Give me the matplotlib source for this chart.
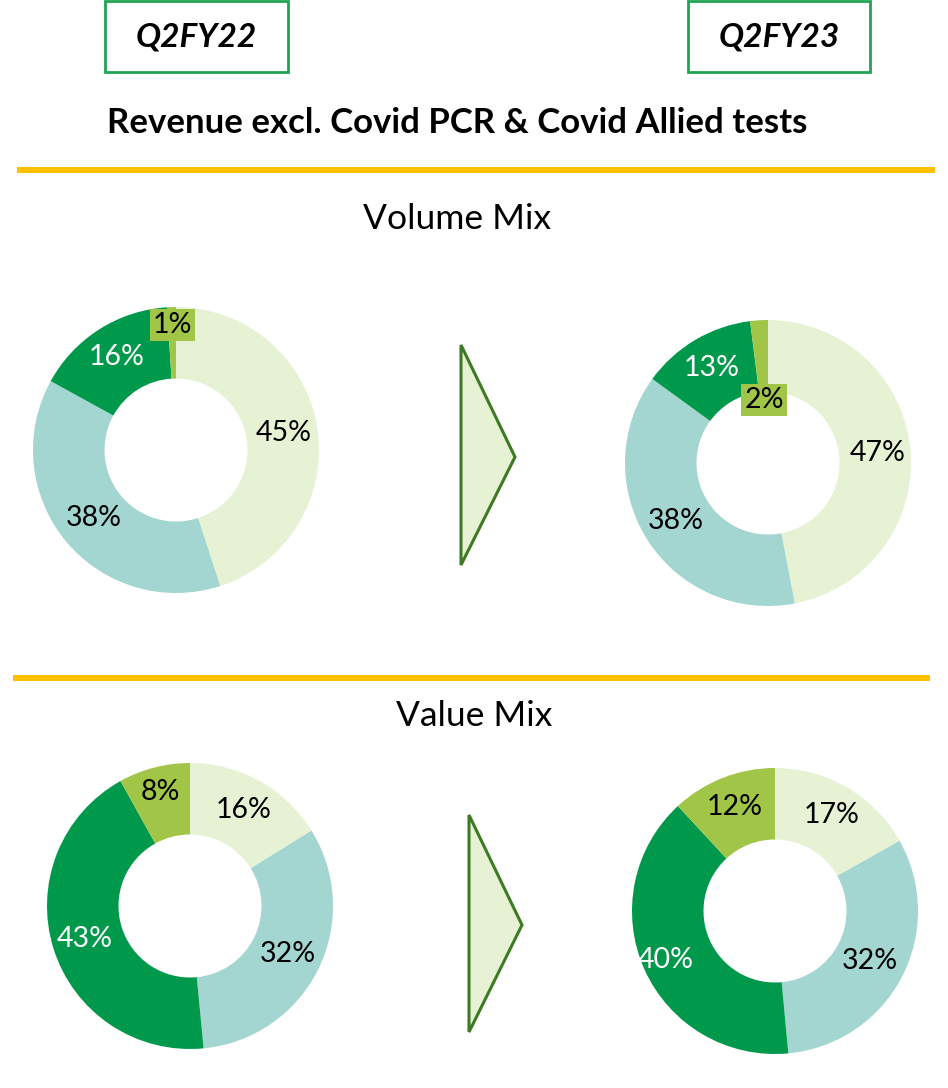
import numpy as np
import matplotlib
matplotlib.use("Agg")
import matplotlib.pyplot as plt
from matplotlib.patches import Rectangle, Polygon

plt.rcParams['font.family'] = ['Lato', 'DejaVu Sans']

# ---------------- data ----------------
periods = ["Q2FY22", "Q2FY23"]
title = "Revenue excl. Covid PCR & Covid Allied tests"
section_titles = ["Volume Mix", "Value Mix"]
volume_q2fy22 = [45, 38, 16, 1]
volume_q2fy23 = [47, 38, 13, 2]
value_q2fy22 = [16, 32, 43, 8]
value_q2fy23 = [17, 32, 40, 12]

# ---------------- style ----------------
W, H = 948, 1088
COLORS = ["#E7F2D5", "#A3D5D1", "#00984A", "#A1C547"]
TEXT_COLORS = ["black", "black", "white", "black"]
YELLOW = "#FFC000"
BOX_GREEN = "#1FA453"
ARROW_EDGE = "#3C7A24"
R = 143

fig = plt.figure(figsize=(W / 100, H / 100), dpi=100)
ax = fig.add_axes([0, 0, 1, 1])


def Y(y):
    return H - y


def donut(vals, cx, cy, label_r, boxed):
    wedges, _ = ax.pie(vals, colors=COLORS, startangle=90, counterclock=False,
                       center=(cx, Y(cy)), radius=R, normalize=True,
                       wedgeprops=dict(width=R * 0.5, linewidth=0))
    for w, v, lr, tc, bx in zip(wedges, vals, label_r, TEXT_COLORS, boxed):
        ang = np.deg2rad((w.theta1 + w.theta2) / 2)
        x = cx + lr * R * np.cos(ang)
        y = Y(cy) + lr * R * np.sin(ang)
        kw = {}
        if bx:
            kw['bbox'] = dict(boxstyle='square,pad=0.1', fc=COLORS[3], ec='none')
        ax.text(x, y, f"{v}%", ha='center', va='center', fontsize=20.5,
                color=tc, **kw)


donut(volume_q2fy22, 176, 450, [0.76, 0.75, 0.77, 0.875], [False, False, False, True])
donut(volume_q2fy23, 768, 463, [0.77, 0.76, 0.77, 0.44], [False, False, False, True])
donut(value_q2fy22, 190, 906, [0.77, 0.76, 0.77, 0.82], [False] * 4)
donut(value_q2fy23, 775, 911, [0.78, 0.75, 0.84, 0.78], [False] * 4)

# header boxes
for (x0, x1), lab in zip([(105, 288), (688, 870)], periods):
    ax.add_patch(Rectangle((x0, Y(72)), x1 - x0, 71, fill=False,
                           ec=BOX_GREEN, lw=2.0))
    ax.text((x0 + x1) / 2, Y(37), lab, ha='center', va='center',
            fontsize=24, fontweight='bold', fontstyle='italic')

ax.text(457, Y(123), title, ha='center', va='center', fontsize=25,
        fontweight='bold')

# yellow separators
ax.add_patch(Rectangle((17, Y(173)), 918, 6, fc=YELLOW, ec='none'))
ax.add_patch(Rectangle((13, Y(681)), 917, 6, fc=YELLOW, ec='none'))

ax.text(457, Y(219), section_titles[0], ha='center', va='center', fontsize=25.5)
ax.text(474, Y(716), section_titles[1], ha='center', va='center', fontsize=25.5)

# arrows
for top, bot, tip in [((461, 345), (461, 565), (515, 457)),
                      ((469, 815), (469, 1032), (522, 925))]:
    ax.add_patch(Polygon([(top[0], Y(top[1])), (tip[0], Y(tip[1])),
                          (bot[0], Y(bot[1]))], closed=True,
                         fc=COLORS[0], ec=ARROW_EDGE, lw=2.2))

ax.set_xlim(0, W)
ax.set_ylim(0, H)
ax.set_aspect('auto')
ax.axis('off')
fig.savefig("out.png", dpi=100, facecolor='white')
